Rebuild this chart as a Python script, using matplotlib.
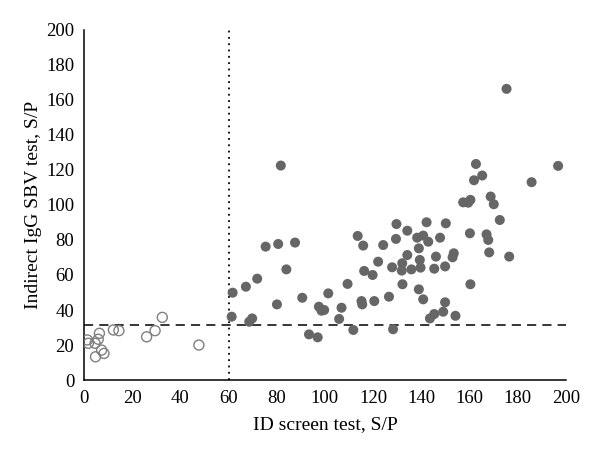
import matplotlib
matplotlib.use("Agg")
import matplotlib.pyplot as plt

plt.rcParams['font.family'] = ['Liberation Serif', 'DejaVu Serif']

# seronegative samples (open circles)
neg_x = [1.4, 1.8, 6.4, 5.9, 4.6, 7.3, 8.3, 4.8, 12.2, 14.5, 26.0, 29.5, 32.5, 47.7]
neg_y = [22.9, 21.0, 26.7, 23.3, 21.0, 17.1, 15.2, 13.3, 28.6, 28.2, 24.7, 28.2, 35.8, 20.0]

# positive samples (filled circles)
pos_x = [81.7, 75.4, 80.6, 87.6, 84.0, 71.9, 67.2, 61.7, 80.1, 90.6, 61.3, 69.8, 68.6,
         93.4, 97.0, 97.5, 99.7, 98.6, 101.4, 106.9, 105.9, 109.4, 111.8, 113.6, 115.9,
         116.3, 115.2, 115.5, 119.8, 120.5, 122.1, 124.2, 126.6, 127.9, 128.3, 129.7,
         129.5, 134.2, 134.2, 132.1, 131.9, 132.2, 135.9, 138.3, 140.8, 139.0, 139.4,
         139.7, 139.0, 140.8, 142.2, 142.9, 143.6, 162.7, 165.3, 161.9, 185.8, 196.8,
         157.4, 159.5, 160.4, 168.8, 170.1, 172.6, 160.2, 167.1, 167.8, 168.2, 176.5,
         160.4, 150.2, 147.8, 146.1, 153.5, 153.0, 145.4, 149.9, 149.9, 149.1, 145.4,
         154.2, 175.4]
pos_y = [122.5, 76.2, 77.7, 78.5, 63.2, 57.9, 53.3, 49.9, 43.2, 47.0, 36.2, 35.2, 33.3,
         26.1, 24.4, 41.9, 40.0, 39.6, 49.5, 41.3, 34.9, 54.9, 28.6, 82.3, 76.8,
         62.3, 45.1, 43.2, 60.0, 45.1, 67.6, 77.1, 47.6, 64.4, 29.0, 89.1,
         80.6, 85.3, 71.4, 66.7, 62.5, 54.7, 63.2, 81.3, 82.5, 75.2, 68.6,
         64.2, 51.8, 46.1, 90.1, 79.0, 35.2, 123.4, 116.8, 114.1, 113.0, 122.3,
         101.5, 101.3, 102.9, 104.8, 100.4, 91.4, 83.8, 83.2, 80.0, 72.9, 70.5,
         54.7, 89.5, 81.3, 70.5, 72.4, 70.1, 63.6, 64.9, 44.4, 39.0, 37.7,
         36.7, 166.3]

cutoff_y = 31.5
cutoff_x = 60

fig = plt.figure(figsize=(6, 4.59), dpi=100)
ax = fig.add_axes([0.14, 0.172, 0.803, 0.763])

ax.scatter(pos_x, pos_y, s=52, color='#666666', edgecolors='none', zorder=3)
ax.scatter(neg_x, neg_y, s=52, facecolors='none', edgecolors='#7f7f7f', linewidths=1.0, zorder=3)

ax.axhline(cutoff_y, color='black', linestyle=(0, (6, 4)), linewidth=1.1, zorder=2)
ax.axvline(cutoff_x, color='black', linestyle=(0, (1, 2.5)), linewidth=1.3, zorder=2)

ax.set_xlim(0, 200)
ax.set_ylim(0, 200)
ax.set_xticks(range(0, 201, 20))
ax.set_yticks(range(0, 201, 20))
ax.tick_params(length=0, labelsize=13.5, pad=7)
for side in ['top', 'right']:
    ax.spines[side].set_visible(False)
for side in ['left', 'bottom']:
    ax.spines[side].set_linewidth(1.1)

ax.set_xlabel('ID screen test, S/P', fontsize=14, labelpad=7)
ax.set_ylabel('Indirect IgG SBV test, S/P', fontsize=14, labelpad=3)

fig.savefig('out.png', dpi=100)
